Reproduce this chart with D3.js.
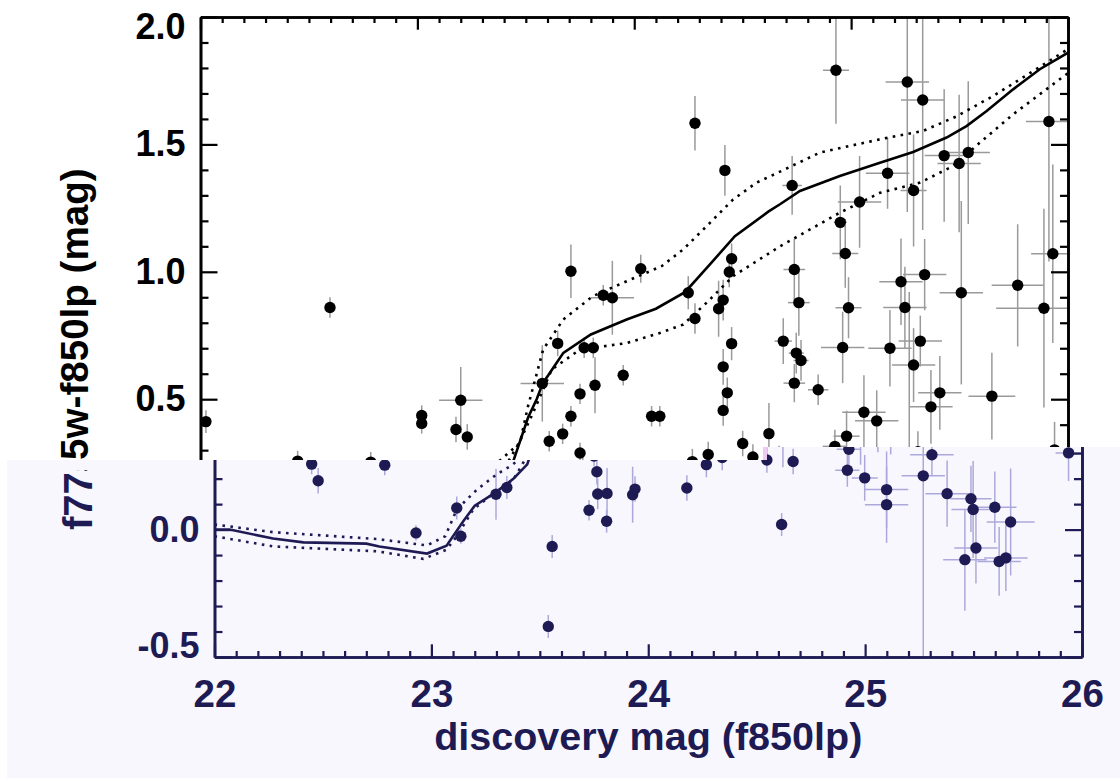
<!DOCTYPE html>
<html><head><meta charset="utf-8">
<script src="https://cdn.jsdelivr.net/npm/d3@7"></script>
<style>body{margin:0;background:#fff}svg{display:block}</style>
</head><body>
<svg id="c" width="1120" height="778"></svg>
<script>
// ---------------- DATA ----------------
const xTicks = [22, 23, 24, 25, 26];
const yTicks = [-0.5, 0.0, 0.5, 1.0, 1.5, 2.0];

// discovery mag (f850lp)
const mag = [
 22.025,22.597,23.020,23.020,23.178,23.200,23.230,23.576,23.608,23.647,
 23.670,23.708,23.708,23.750,23.750,23.769,23.811,23.819,23.857,23.899,
 23.949,24.030,24.080,24.118,24.249,24.280,24.280,24.341,24.389,24.410,
 24.418,24.438,24.449,24.410,24.429,24.410,24.449,24.500,24.621,24.687,
 24.728,24.738,24.738,24.747,24.759,24.769,24.848,24.930,24.950,24.961,
 24.973,24.979,24.988,25.039,25.059,25.118,25.168,25.179,25.230,25.248,
 25.259,25.288,25.288,25.319,25.330,25.339,25.368,25.409,25.429,25.498,
 25.508,25.540,25.649,25.768,25.889,25.912,25.930,24.925,
 22.448,22.478,22.785,22.929,23.117,23.136,23.298,23.348,23.539,23.557,
 23.727,23.763,23.767,23.810,23.808,23.928,23.939,24.178,24.268,24.547,
 24.668,24.615,24.918,24.998,25.099,25.099,25.268,25.308,25.378,25.488,
 25.498,25.598,25.671,25.511,25.460,25.618,25.649,25.938
];
// f775w-f850lp colour
const color = [
 0.412,0.860,0.436,0.405,0.381,0.496,0.352,0.562,0.335,0.719,
 0.364,1.002,0.433,0.521,0.289,0.702,0.702,0.555,0.908,0.898,
 0.594,1.012,0.433,0.433,0.918,0.817,1.583,0.283,0.855,0.889,
 1.398,0.999,1.051,0.627,0.525,0.456,0.718,0.326,0.365,0.728,
 1.339,1.009,0.563,0.681,0.879,0.652,0.537,1.791,1.194,0.703,
 1.072,0.355,0.859,1.274,0.449,0.415,1.387,0.700,0.961,0.860,
 1.745,1.319,0.634,0.728,1.674,0.989,0.470,0.525,1.456,1.425,
 0.918,1.468,0.512,0.947,0.857,1.590,1.071,0.315,
 0.257,0.192,0.253,-0.013,0.085,-0.026,0.139,0.165,-0.380,-0.066,
 0.076,0.227,0.140,0.142,0.033,0.137,0.159,0.163,0.255,0.273,
 0.267,0.020,0.233,0.203,0.157,0.098,0.211,0.294,0.141,0.121,
 0.079,0.088,0.030,-0.072,-0.118,-0.125,-0.111,0.301
];
// 1-sigma errors
const magErr = [
 0,0,0,0,0,0.10,0,0.10,0,0,
 0,0,0,0,0,0,0,0,0,0.10,
 0,0,0,0,0,0,0,0,0,0,
 0,0,0,0,0,0,0,0,0,0.04,
 0.045,0.05,0.05,0.035,0.05,0.035,0.047,0.06,0.03,0.10,
 0.06,0.06,0.06,0.10,0.10,0.10,0.10,0.10,0.10,0.10,
 0.10,0.06,0.10,0.10,0.10,0.10,0.10,0.10,0.09,0.10,
 0.10,0.10,0.108,0.12,0.22,0.106,0.10,0.056,
 0,0,0,0,0,0,0,0,0,0,
 0,0,0,0,0,0,0,0,0,0,
 0,0,0.056,0.06,0.10,0.10,0.10,0.10,0.10,0.095,
 0.10,0.10,0.11,0.10,0.10,0.10,0.10,0.06
];
const colorErr = [
 0.045,0.04,0.04,0.04,0.05,0.13,0.05,0.15,0.04,0.05,
 0.04,0.105,0.04,0.04,0.04,0.04,0.04,0.11,0.04,0.145,
 0.04,0.055,0.04,0.04,0.065,0.06,0.107,0.05,0.11,0.08,
 0.10,0.06,0.06,0.07,0.06,0.06,0.065,0.05,0.12,0.09,
 0.115,0.12,0.075,0.08,0.13,0.08,0.06,0.21,0.145,0.14,
 0.135,0.10,0.12,0.18,0.145,0.12,0.14,0.15,0.17,0.16,
 0.51,0.22,0.145,0.10,0.51,0.14,0.145,0.145,0.26,0.27,
 0.36,0.28,0.17,0.24,0.39,0.55,0.35,0.065,
 0.04,0.05,0.04,0.03,0.045,0.03,0.10,0.045,0.045,0.045,
 0.04,0.05,0.06,0.10,0.045,0.11,0.05,0.05,0.05,0.05,
 0.05,0.045,0.065,0.09,0.15,0.15,0.71,0.08,0.13,0.13,
 0.19,0.14,0.21,0.14,0.20,0.135,0.13,0.11
];

// model track (solid) and its envelope (dotted)
const modelMag = [22.00,22.07,22.27,22.41,22.70,22.76,22.98,23.07,23.147,23.20,23.293,23.378,23.442,23.51,23.55,23.578,23.673,23.80,23.965,24.10,24.234,24.35,24.464,24.618,24.672,24.764,24.948,25.133,25.286,25.44,25.532,25.625,25.747,25.87,26.00];
const modelCol = [0.00,0.00,-0.035,-0.05,-0.055,-0.066,-0.094,-0.063,0.033,0.094,0.144,0.199,0.256,0.427,0.50,0.562,0.682,0.754,0.813,0.855,0.92,1.03,1.14,1.236,1.265,1.317,1.376,1.428,1.47,1.527,1.572,1.631,1.716,1.795,1.86];
const upperMag = [22.00,22.27,22.75,22.98,23.064,23.117,23.21,23.30,23.375,23.473,23.51,23.58,23.673,23.81,23.965,24.126,24.226,24.35,24.456,24.564,24.672,24.856,25.133,25.332,25.486,25.655,25.84,26.00];
const upperCol = [0.02,-0.01,-0.037,-0.062,-0.026,0.079,0.157,0.216,0.255,0.329,0.472,0.695,0.813,0.905,0.963,1.022,1.088,1.193,1.284,1.35,1.393,1.468,1.52,1.553,1.61,1.69,1.788,1.874];
const lowerMag = [22.00,22.27,22.75,22.963,23.07,23.117,23.193,23.27,23.378,23.47,23.53,23.62,23.75,23.965,24.118,24.226,24.334,24.456,24.672,24.948,25.133,25.318,25.47,25.594,25.747,25.90,26.00];
const lowerCol = [-0.026,-0.066,-0.085,-0.115,-0.079,-0.026,0.079,0.131,0.196,0.33,0.44,0.617,0.695,0.72,0.76,0.793,0.879,0.983,1.10,1.232,1.31,1.35,1.415,1.507,1.618,1.716,1.78];

const xTitle = "discovery mag (f850lp)";
const yTitle = "f775w-f850lp (mag)";

// ---------------- CHART ----------------
const svg = d3.select('#c');
const FONT = '"Liberation Sans", Arial, Helvetica, sans-serif';
const x = d3.scaleLinear().domain([22, 26]).range([200.5, 1068]);
const y = d3.scaleLinear().domain([-0.5, 2.0]).range([654, 17]);

const pts = mag.map((m, i) => ({m, c: color[i], em: magErr[i], ec: colorErr[i]}));
const track = (ms, cs) => ms.map((m, i) => [m, cs[i]]);
const line = d3.line().x(d => x(d[0])).y(d => y(d[1]));

const xMinor = d3.range(0, 41).filter(i => i % 10 !== 0).map(i => 22 + i * 0.1);
const yMinor = d3.range(0, 26).filter(i => i % 5 !== 0).map(i => -0.5 + i * 0.1);

// opt.yLab: which y tick values get a label; opt.xLab: draw x labels & title; opt.tx/ty/ts/tclip: y-title
function drawChart(g, pal, id, opt) {
  g.append('clipPath').attr('id', 'plot' + id).append('rect')
    .attr('x', x.range()[0]).attr('y', y.range()[1])
    .attr('width', x.range()[1] - x.range()[0]).attr('height', y.range()[0] - y.range()[1]);
  const pg = g.append('g').attr('clip-path', `url(#plot${id})`);

  const eb = pg.append('g').attr('stroke', pal.err).attr('stroke-width', 1.5).attr('fill', 'none');
  pts.forEach(p => {
    if (p.em > 0) eb.append('line').attr('x1', x(p.m - p.em)).attr('x2', x(p.m + p.em)).attr('y1', y(p.c)).attr('y2', y(p.c));
    if (p.ec > 0) eb.append('line').attr('x1', x(p.m)).attr('x2', x(p.m)).attr('y1', y(p.c - p.ec)).attr('y2', y(p.c + p.ec));
  });

  pg.append('path').datum(track(modelMag, modelCol)).attr('d', line)
    .attr('fill', 'none').attr('stroke', pal.fg).attr('stroke-width', 2.6);
  [track(upperMag, upperCol), track(lowerMag, lowerCol)].forEach(t => {
    pg.append('path').datum(t).attr('d', line).attr('fill', 'none')
      .attr('stroke', pal.fg).attr('stroke-width', 2.6).attr('stroke-dasharray', '2.6 5.4');
  });

  pg.append('g').selectAll('circle').data(pts).join('circle')
    .attr('cx', d => x(d.m)).attr('cy', d => y(d.c)).attr('r', 5.7).attr('fill', pal.fg);

  const styleAxis = (a, size) => {
    a.select('.domain').attr('stroke', pal.fg).attr('stroke-width', 2.6);
    a.selectAll('.tick line').attr('stroke', pal.fg).attr('stroke-width', 2.2);
    a.selectAll('text').attr('fill', pal.fg).style('font-family', FONT)
      .style('font-size', size + 'px').style('font-weight', 'bold');
  };
  const X0 = x.range()[0], X1 = x.range()[1], Y0 = y.range()[0], Y1 = y.range()[1];

  const bot = g.append('g').attr('transform', `translate(0,${Y0})`)
    .call(d3.axisBottom(x).tickValues(xTicks).tickSize(-12.7).tickSizeOuter(0).tickPadding(23)
      .tickFormat(d => opt.xLab ? String(d) : ''));
  styleAxis(bot, 38.5);
  if (!opt.xLab) bot.selectAll('.tick text').remove();
  const botm = g.append('g').attr('transform', `translate(0,${Y0})`)
    .call(d3.axisBottom(x).tickValues(xMinor).tickSize(-6).tickSizeOuter(0).tickFormat(''));
  styleAxis(botm, 10); botm.selectAll('.tick text').remove();
  const top = g.append('g').attr('transform', `translate(0,${Y1})`)
    .call(d3.axisTop(x).tickValues(xTicks).tickSize(-12.7).tickSizeOuter(0).tickFormat(''));
  styleAxis(top, 10); top.selectAll('.tick text').remove();
  const topm = g.append('g').attr('transform', `translate(0,${Y1})`)
    .call(d3.axisTop(x).tickValues(xMinor).tickSize(-6).tickSizeOuter(0).tickFormat(''));
  styleAxis(topm, 10); topm.selectAll('.tick text').remove();

  const left = g.append('g').attr('transform', `translate(${X0},0)`)
    .call(d3.axisLeft(y).tickValues(yTicks).tickSize(-17).tickSizeOuter(0).tickPadding(15).tickFormat(d => d.toFixed(1)));
  styleAxis(left, 36);
  left.selectAll('.tick text').attr('y', d => d === 2 ? 10 : (d === -0.5 ? -11 : 0));
  left.selectAll('.tick text').filter(d => !opt.yLab(d)).remove();
  const leftm = g.append('g').attr('transform', `translate(${X0},0)`)
    .call(d3.axisLeft(y).tickValues(yMinor).tickSize(-8).tickSizeOuter(0).tickFormat(''));
  styleAxis(leftm, 10); leftm.selectAll('.tick text').remove();
  const right = g.append('g').attr('transform', `translate(${X1},0)`)
    .call(d3.axisRight(y).tickValues(yTicks).tickSize(-17).tickSizeOuter(0).tickFormat(''));
  styleAxis(right, 10); right.selectAll('.tick text').remove();
  const rightm = g.append('g').attr('transform', `translate(${X1},0)`)
    .call(d3.axisRight(y).tickValues(yMinor).tickSize(-8).tickSizeOuter(0).tickFormat(''));
  styleAxis(rightm, 10); rightm.selectAll('.tick text').remove();

  if (opt.xLab) {
    g.append('text').text(xTitle).attr('x', (X0 + X1) / 2).attr('y', 747)
      .attr('text-anchor', 'middle').attr('fill', pal.fg)
      .style('font-family', FONT).style('font-size', '39.5px').style('font-weight', 'bold');
  }
  let tg = g;
  if (opt.tclip != null) {
    g.append('clipPath').attr('id', 'title' + id).append('rect')
      .attr('x', 0).attr('y', opt.tclip).attr('width', 200).attr('height', 400);
    tg = g.append('g').attr('clip-path', `url(#title${id})`);
  }
  tg.append('text').text(yTitle)
    .attr('transform', `translate(${opt.tx},${opt.ty}) rotate(-90)`)
    .attr('text-anchor', 'middle').attr('fill', pal.fg)
    .style('font-family', FONT).style('font-size', opt.ts + 'px').style('font-weight', 'bold');
}

// upper (original) rendering
drawChart(svg.append('g'), {fg: '#000000', err: '#9a9a9a'}, 'a',
  {xLab: false, yLab: d => d >= 0.5, tx: 88, ty: 342, ts: 38.6, tclip: null});

// lower tinted, offset copy
const defs = svg.append('defs');
defs.append('clipPath').attr('id', 'lowClip').append('path')
  .attr('d', 'M7,460 H763 V447 H1120 V778 H7 Z');
const low = svg.append('g').attr('clip-path', 'url(#lowClip)');
low.append('rect').attr('x', 0).attr('y', 0).attr('width', 1120).attr('height', 778).attr('fill', '#f9f7fe');
drawChart(low.append('g').attr('transform', 'translate(14,3)'), {fg: '#1e1b54', err: '#aca9da'}, 'b',
  {xLab: true, yLab: d => d <= 0, tx: 78, ty: 347, ts: 40, tclip: 467});
low.append('rect').attr('x', 742).attr('y', 447).attr('width', 13).attr('height', 13).attr('fill', '#cfe0d8');
low.append('rect').attr('x', 755).attr('y', 447).attr('width', 6).attr('height', 13).attr('fill', '#bfe9f5');
low.append('rect').attr('x', 761).attr('y', 447).attr('width', 6).attr('height', 13).attr('fill', '#eecbf3');
</script>
</body></html>
